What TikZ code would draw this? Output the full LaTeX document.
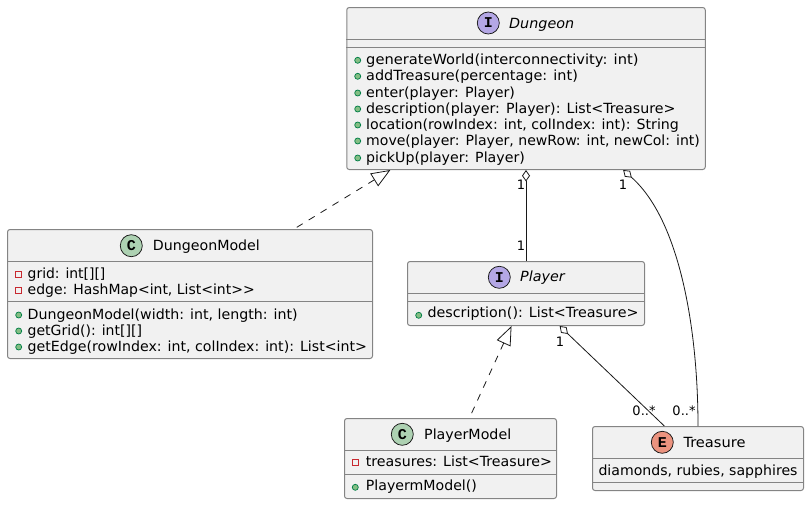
\documentclass[tikz,border=0pt]{standalone}
\usepackage{graphicx}
\usepackage{fontspec}
\setmainfont{DejaVu Sans}[Ligatures=TeXOff]
\newfontfamily\iconfont{Liberation Mono}[Ligatures=TeXOff]
\usetikzlibrary{arrows.meta,positioning}
\definecolor{boxfill}{HTML}{F1F1F1}
\definecolor{boxline}{HTML}{848484}
\definecolor{inkline}{HTML}{181818}
\definecolor{classfill}{HTML}{ADD1B2}
\definecolor{ifacefill}{HTML}{B4A7E5}
\definecolor{enumfill}{HTML}{EB937F}
\definecolor{pubfill}{HTML}{84BE84}
\definecolor{publine}{HTML}{038048}
\definecolor{priline}{HTML}{C82930}
\tikzstyle{umlbox}=[rectangle, rounded corners=2.5pt, draw=boxline, line width=1pt, fill=boxfill, inner sep=0pt]
\tikzstyle{divide}=[draw=boxline, line width=1pt]
\tikzstyle{member}=[anchor=base west, inner sep=0pt, font=\fontsize{14}{16}\selectfont, text=black]
\tikzstyle{title}=[member]
\tikzstyle{ititle}=[member, font=\fontsize{14}{16}\selectfont\itshape]
\tikzstyle{icon}=[circle, draw=inkline, line width=0.75pt, minimum size=22pt, inner sep=0pt, font=\fontsize{15}{15}\selectfont\iconfont\bfseries]
\tikzstyle{pubmark}=[circle, draw=publine, line width=0.75pt, fill=pubfill, minimum size=6pt, inner sep=0pt]
\tikzstyle{primark}=[rectangle, draw=priline, line width=0.75pt, minimum size=6pt, inner sep=0pt]
\tikzstyle{link}=[draw=inkline, line width=0.8pt]
\tikzstyle{realize}=[link, dash pattern=on 7pt off 7pt, {Triangle[open,length=19pt,width=15pt,line width=0.8pt]}-]
\tikzstyle{aggregate}=[link, {Diamond[open,length=11.5pt,width=8pt,line width=0.8pt]}-]
\tikzstyle{multi}=[inner sep=0pt, font=\fontsize{13}{15}\selectfont, text=black]
\newcommand{\divider}[2]{\draw[divide] (#1.west |- 0,#2) -- (#1.east |- 0,#2);}
\newcommand{\fitrow}[2]{\resizebox{#1pt}{\height}{#2}}
\begin{document}
\begin{tikzpicture}[x=1pt, y=-1pt]
	\useasboundingbox (0,0) rectangle (809,504);

	\node[umlbox, minimum width=358.5pt, minimum height=162pt] (dungeon) at (526,88.5) {};
	\node[umlbox, minimum width=365pt, minimum height=129pt] (dungeonmodel) at (190,294) {};
	\node[umlbox, minimum width=237pt, minimum height=64pt] (player) at (526,293.5) {};
	\node[umlbox, minimum width=212pt, minimum height=80pt] (playermodel) at (450.5,458.5) {};
	\node[umlbox, minimum width=211pt, minimum height=64pt] (treasure) at (698,458.5) {};

	\divider{dungeon}{39.5}
	\divider{dungeon}{47.5}
	\divider{dungeonmodel}{261.5}
	\divider{dungeonmodel}{301.5}
	\divider{player}{293.5}
	\divider{player}{301.5}
	\divider{playermodel}{450.5}
	\divider{playermodel}{474.5}
	\divider{treasure}{458.5}
	\divider{treasure}{482.5}

	\node[icon, fill=ifacefill] (dungeonicon) at (488.3,23) {I};
	\node[ititle] (dungeontitle) at (509,28) {\fitrow{65}{Dungeon}};
	\node[icon, fill=classfill] (dungeonmodelicon) at (131.3,245.7) {C};
	\node[title] (dungeonmodeltitle) at (152.7,250) {\fitrow{107}{DungeonModel}};
	\node[icon, fill=ifacefill] (playericon) at (499.3,277.3) {I};
	\node[ititle] (playertitle) at (520,281.7) {\fitrow{44.5}{Player}};
	\node[icon, fill=classfill] (playermodelicon) at (402.3,434.3) {C};
	\node[title] (playermodeltitle) at (424,439) {\fitrow{87}{PlayerModel}};
	\node[icon, fill=enumfill] (treasureicon) at (662.3,442.3) {E};
	\node[title] (treasuretitle) at (683.3,447) {\fitrow{62}{Treasure}};

	\foreach \y/\w/\row [count=\i] in {64.3/272.3/{generateWorld(interconnectivity: int)}, 80.3/211.7/{addTreasure(percentage: int)}, 97/148.7/{enter(player: Player)}, 113/309.3/{description(player: Player): List<Treasure>}, 129/312.7/{location(rowIndex: int, colIndex: int): String}, 145/333.7/{move(player: Player, newRow: int, newCol: int)}, 162/158.7/{pickUp(player: Player)}} {
		\node[pubmark] (dungeonmark\i) at (357.7,\y-4) {};
		\node[member] (dungeonrow\i) at (366,\y) {\fitrow{\w}{\row}};
	}
	\foreach \y/\w/\row [count=\i] in {278/77.7/{grid: int[][]}, 294/227/{edge: HashMap<int, List<int>>}} {
		\node[primark] (fieldmark\i) at (18.7,\y-4) {};
		\node[member] (fieldrow\i) at (27.5,\y) {\fitrow{\w}{\row}};
	}
	\foreach \y/\w/\row [count=\i] in {319/270/{DungeonModel(width: int, length: int)}, 335/114.3/{getGrid(): int[][]}, 351/339.3/{getEdge(rowIndex: int, colIndex: int): List<int>}} {
		\node[pubmark] (modelmark\i) at (18.7,\y-4) {};
		\node[member] (modelrow\i) at (27.5,\y) {\fitrow{\w}{\row}};
	}
	\node[pubmark] (playermark) at (418.7,315.3) {};
	\node[member] (playerrow) at (427.3,317.7) {\fitrow{211}{description(): List<Treasure>}};
	\node[primark] (treasuresmark) at (355.3,462.7) {};
	\node[member] (treasuresrow) at (365.7,466.7) {\fitrow{186}{treasures: List<Treasure>}};
	\node[pubmark] (playermodelmark) at (355.3,487.3) {};
	\node[member] (playermodelrow) at (365.7,490.7) {\fitrow{111}{PlayermModel()}};
	\node[member] (treasurerow) at (598.3,475) {\fitrow{199}{diamonds, rubies, sapphires}};

	\draw[realize] (dungeon.211) -- (dungeonmodel.32);
	\draw[realize] (player.246) -- (playermodel.65);
	\draw[aggregate] (dungeon.south -| player.north) -- (player.north);
	\draw[aggregate] (dungeon.-40.9) .. controls (680,220) and (698,330) .. (treasure.north);
	\draw[aggregate] (player.-44) -- (treasure.136.5);

	\node[multi] (dungeonone) at (521,184.5) {1};
	\node[multi] (playerone) at (521,246) {1};
	\node[multi] (dungeontwo) at (623,185) {1};
	\node[multi] (treasuremany) at (684,411) {0..*};
	\node[multi] (playerthree) at (560,342) {1};
	\node[multi] (playermany) at (644,411) {0..*};
\end{tikzpicture}
\end{document}
